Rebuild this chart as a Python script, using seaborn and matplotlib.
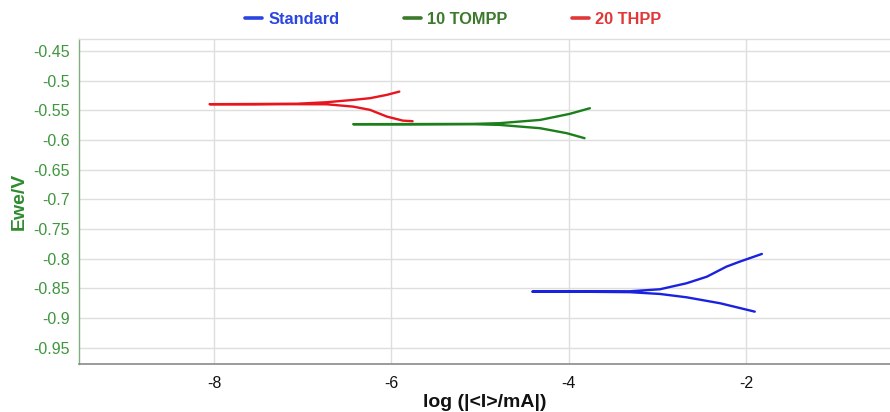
import matplotlib
matplotlib.use("Agg")
import matplotlib.pyplot as plt
from matplotlib.lines import Line2D
from matplotlib.ticker import MultipleLocator, FuncFormatter
import seaborn as sns
import pandas as pd

# Tafel curves: log|I| (mA) vs Ewe (V), each traced cathodic end -> Ecorr tip -> anodic end
series_names = ["Standard", "10 TOMPP", "20 THPP"]

std_logi = [-1.90, -2.29, -2.67, -2.97, -3.31, -3.90, -4.41, -3.90, -3.31, -2.97, -2.67, -2.44, -2.22, -2.07, -1.82]
std_ewe = [-0.8893, -0.8752, -0.8651, -0.8595, -0.8565, -0.8557, -0.8556, -0.8555, -0.8550, -0.8516, -0.8415, -0.8304, -0.8135, -0.8051, -0.7921]

tompp_logi = [-3.82, -4.02, -4.32, -4.78, -5.08, -5.80, -6.43, -5.80, -5.08, -4.78, -4.32, -3.99, -3.76]
tompp_ewe = [-0.5971, -0.5887, -0.5803, -0.5747, -0.5735, -0.5737, -0.5735, -0.5733, -0.5730, -0.5718, -0.5663, -0.5562, -0.5466]

thpp_logi = [-5.76, -5.87, -6.05, -6.24, -6.43, -6.73, -7.06, -7.55, -8.05, -7.55, -7.06, -6.73, -6.43, -6.24, -6.05, -5.91]
thpp_ewe = [-0.5685, -0.5675, -0.5607, -0.5494, -0.5439, -0.5400, -0.5398, -0.5400, -0.5398, -0.5395, -0.5390, -0.5365, -0.5326, -0.5297, -0.5241, -0.5186]

x_ticks = [-8, -6, -4, -2]
y_ticks = [-0.45, -0.5, -0.55, -0.6, -0.65, -0.7, -0.75, -0.8, -0.85, -0.9, -0.95]

line_colors = {"Standard": "#1a22e0", "10 TOMPP": "#1c7f1c", "20 THPP": "#e8141e"}
text_colors = {"Standard": "#2a45e0", "10 TOMPP": "#3b7a2b", "20 THPP": "#e03838"}

frames = []
for name, xs, ys in [("Standard", std_logi, std_ewe),
                     ("10 TOMPP", tompp_logi, tompp_ewe),
                     ("20 THPP", thpp_logi, thpp_ewe)]:
    frames.append(pd.DataFrame({"logI": xs, "Ewe": ys, "series": name, "order": range(len(xs))}))
df = pd.concat(frames, ignore_index=True)

sns.set_style("white")
plt.rcParams["font.family"] = ["Liberation Sans", "DejaVu Sans"]
plt.rcParams["axes.unicode_minus"] = False

fig = plt.figure(figsize=(8.9, 4.12), dpi=100)
ax = fig.add_axes([79.3 / 890, 1 - 364 / 412, (889.5 - 79.3) / 890, (364 - 39.3) / 412])

sns.lineplot(data=df, x="logI", y="Ewe", hue="series", palette=line_colors,
             sort=False, estimator=None, units="series", linewidth=1.7,
             legend=False, ax=ax)

ax.set_xlim(-9.52, -0.38)
ax.set_ylim(-0.9775, -0.4305)

ax.set_xticks(x_ticks)
ax.set_yticks(y_ticks)
ax.xaxis.set_minor_locator(MultipleLocator(0.4))
ax.yaxis.set_minor_locator(MultipleLocator(0.01))
ax.yaxis.set_major_formatter(FuncFormatter(lambda v, p: "%g" % round(v, 3)))
ax.xaxis.set_major_formatter(FuncFormatter(lambda v, p: "%g" % v))

ax.grid(True, which="major", color="#dedede", linewidth=1.0)
ax.set_axisbelow(True)

ax.spines["right"].set_visible(False)
ax.spines["top"].set_color("#dedede")
ax.spines["top"].set_linewidth(1.0)
ax.spines["bottom"].set_color("#8a8a8a")
ax.spines["bottom"].set_linewidth(1.2)
ax.spines["left"].set_color("#7fae7f")
ax.spines["left"].set_linewidth(1.0)

ax.tick_params(axis="x", which="major", direction="out", length=3, width=1, color="#8a8a8a",
               labelsize=11.5, labelcolor="#111111", pad=6)
ax.tick_params(axis="x", which="minor", direction="out", length=2.5, width=0.8, color="#8a8a8a")
ax.tick_params(axis="y", which="major", direction="out", length=3, width=1, color="#6aa86a",
               labelsize=11.5, labelcolor="#3f963f", pad=4)
ax.tick_params(axis="y", which="minor", direction="out", length=2, width=0.8, color="#8fbf8f")

ax.set_xlabel("log (|<I>/mA|)", fontsize=14, fontweight="bold", color="#111111", labelpad=2)
ax.set_ylabel("Ewe/V", fontsize=14, fontweight="bold", color="#2f8a2f", labelpad=4)

handles = [Line2D([0], [0], color=text_colors[n], linewidth=2.6) for n in series_names]
leg = fig.legend(handles, series_names, loc="center", ncol=3, frameon=False,
                 bbox_to_anchor=(453 / 890, 1 - 19 / 412),
                 prop={"size": 11.8, "weight": "bold"},
                 handlelength=1.05, handletextpad=0.35, columnspacing=3.95)
for txt, n in zip(leg.get_texts(), series_names):
    txt.set_color(text_colors[n])

fig.savefig("out.png", dpi=100)
